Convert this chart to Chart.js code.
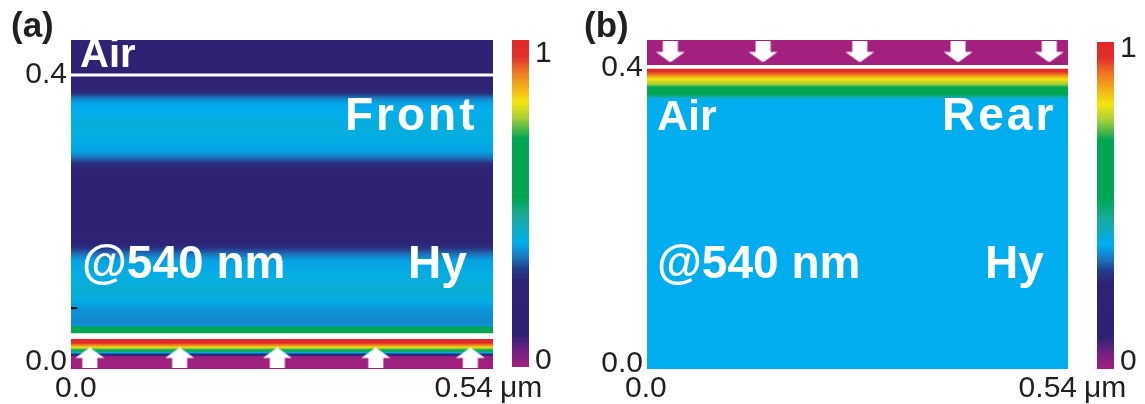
<!DOCTYPE html>
<html>
<head>
<meta charset="utf-8">
<script src="https://cdn.jsdelivr.net/npm/chart.js@4.4.1/dist/chart.umd.min.js"></script>
<style>
  html, body { margin: 0; padding: 0; background: #ffffff; }
  #wrap { position: relative; width: 1145px; height: 404px; overflow: hidden; }
  #wrap canvas { position: absolute; top: 0; }
</style>
</head>
<body>
<div id="wrap">
  <canvas id="heatA" width="575" height="404" style="left:0px"></canvas>
  <canvas id="heatB" width="565" height="404" style="left:580px"></canvas>
  <canvas id="barA" width="60" height="404" style="left:505px"></canvas>
  <canvas id="barB" width="55" height="404" style="left:1090px"></canvas>
</div>
<script>
const FONT = '"Liberation Sans", Arial, Helvetica, sans-serif';
const INK = '#231f20';

// ---- axes ----
const xTicks = [0, 0.54];          // lateral extent, µm
const yTicks = [0.0, 0.4];         // depth labels, µm
const cbarTicks = [0, 1];          // normalised |Hy|

// ---- (a) front illumination: depth (µm) / normalised |Hy|, listed top to bottom ----
const depthAirA = [0.4488, 0.400];
const fieldAirA = [0.18, 0.18];
const depthHyA = [0.400, 0.397, 0.385, 0.379, 0.374, 0.368, 0.362, 0.351, 0.330, 0.309,
                  0.293, 0.284, 0.277, 0.270, 0.260, 0.177, 0.167, 0.159, 0.151, 0.142,
                  0.121, 0.100, 0.086, 0.072, 0.056, 0.050, 0.049, 0.040];
const fieldHyA = [0.18, 0.17, 0.18, 0.22, 0.28, 0.34, 0.37, 0.38, 0.40, 0.39,
                  0.37, 0.33, 0.28, 0.22, 0.18, 0.18, 0.22, 0.28, 0.33, 0.37,
                  0.39, 0.41, 0.39, 0.36, 0.35, 0.36, 0.60, 0.60];
const depthSubA = [0.032, 0.0265, 0.023, 0.020, 0.0174, 0.0153, 0.0132, 0.0111, 0.0091, 0.0077, -0.0098];
const fieldSubA = [1.00, 0.97, 0.88, 0.80, 0.72, 0.60, 0.40, 0.30, 0.20, 0.01, 0.00];
const interfaceA = 0.4;
const arrowXA = [0.024, 0.139, 0.264, 0.390, 0.511];
const arrowDepthA = 0.0056;

// ---- (b) rear illumination ----
const depthTopB = [0.4378, 0.4045, 0.404];
const fieldTopB = [0.00, 0.00, 0.12];
const depthHyB = [0.399, 0.395, 0.391, 0.385, 0.378, 0.374, 0.365, 0.362, 0.359, 0.355, -0.0068];
const fieldHyB = [1.00, 0.96, 0.90, 0.81, 0.76, 0.70, 0.56, 0.48, 0.40, 0.38, 0.38];
const arrowXB = [0.030, 0.149, 0.273, 0.399, 0.516];
const arrowDepthB = 0.4216;

// ---- colour scale ----
const cmapPos = [0, 0.05, 0.10, 0.26, 0.30, 0.33, 0.38, 0.46, 0.52, 0.70, 0.76, 0.81, 0.90, 0.95, 1.0];
const cmapHex = ['#a3207f', '#6e2280', '#2e2176', '#2e2373', '#223c8e', '#1f6db5', '#00aeef',
                 '#1aaa9b', '#00a651', '#00a651', '#a6ce39', '#f5e50f', '#ee7a22', '#e2302a', '#e0262a'];

function hexRgb(h) {
  const n = parseInt(h.slice(1), 16);
  return [(n >> 16) & 255, (n >> 8) & 255, n & 255];
}
function colorAt(v) {
  v = Math.max(0, Math.min(1, v));
  for (let i = 1; i < cmapPos.length; i++) {
    if (v <= cmapPos[i]) {
      const t = (v - cmapPos[i - 1]) / (cmapPos[i] - cmapPos[i - 1]);
      const a = hexRgb(cmapHex[i - 1]), b = hexRgb(cmapHex[i]);
      const c = a.map((av, k) => Math.round(av + (b[k] - av) * t));
      return `rgb(${c[0]},${c[1]},${c[2]})`;
    }
  }
  return cmapHex[cmapHex.length - 1];
}

// vertical gradient following a depth profile, positioned through the y scale
function profileGradient(chart, depths, values) {
  const { ctx, chartArea, scales } = chart;
  if (!chartArea) return 'rgba(0,0,0,0)';
  const y = scales.y;
  const p0 = y.getPixelForValue(depths[0]);
  const p1 = y.getPixelForValue(depths[depths.length - 1]);
  const g = ctx.createLinearGradient(0, p0, 0, p1);
  depths.forEach((d, i) => {
    const off = (y.getPixelForValue(d) - p0) / (p1 - p0);
    g.addColorStop(Math.min(1, Math.max(0, off)), colorAt(values[i]));
  });
  return g;
}

// one horizontally uniform layer of the field map
function layer(depths, values) {
  return {
    type: 'line',
    data: [{ x: xTicks[0], y: depths[0] }, { x: xTicks[1], y: depths[0] }],
    fill: { value: depths[depths.length - 1] },
    borderColor: 'rgba(0,0,0,0)',
    borderWidth: 0,
    pointRadius: 0,
    backgroundColor: c => profileGradient(c.chart, depths, values)
  };
}

// white block arrow used as point glyph for the incidence direction
function arrowGlyph() {
  const c = document.createElement('canvas');
  c.width = 30; c.height = 21;
  const g = c.getContext('2d');
  g.fillStyle = '#ffffff';
  g.beginPath();
  g.moveTo(15, 0); g.lineTo(29.5, 10.5); g.lineTo(22.5, 10.5); g.lineTo(22.5, 21);
  g.lineTo(7.5, 21); g.lineTo(7.5, 10.5); g.lineTo(0.5, 10.5);
  g.closePath(); g.fill();
  return c;
}
const ARROW = arrowGlyph();

function arrows(xs, depth, rotation) {
  return {
    type: 'line',
    showLine: false,
    data: xs.map(x => ({ x, y: depth })),
    pointStyle: ARROW,
    pointRadius: 10,
    rotation,
    borderColor: 'rgba(0,0,0,0)',
    backgroundColor: 'rgba(0,0,0,0)'
  };
}

const fmtX = v => (v === 0 ? '0.0' : String(v));

const textPlugin = {
  id: 'panelText',
  afterDatasetsDraw(chart, args, o) {
    if (!o.items) return;
    const { ctx, chartArea: a } = chart;
    ctx.save();
    ctx.fillStyle = '#ffffff';
    ctx.textBaseline = 'alphabetic';
    ctx.textAlign = 'left';
    for (const t of o.items) {
      ctx.font = `bold ${t.size}px ${FONT}`;
      ctx.letterSpacing = (t.spacing || 0) + 'px';
      ctx.fillText(t.text, a.left + t.dx, a.top + t.dy);
    }
    ctx.restore();
  },
  afterDraw(chart, args, o) {
    if (!o.xLabels) return;
    const { ctx } = chart;
    const xs = chart.scales.x;
    ctx.save();
    ctx.fillStyle = INK;
    ctx.textBaseline = 'alphabetic';
    ctx.font = `30px ${FONT}`;
    for (const l of o.xLabels) {
      ctx.textAlign = l.align;
      ctx.fillText(l.text, xs.getPixelForValue(l.value) + l.dx, o.xBaseline);
    }
    ctx.font = `bold 35px ${FONT}`;
    ctx.textAlign = 'left';
    ctx.fillText(o.panel, o.panelX, o.panelY);
    ctx.restore();
  }
};

function heatChart(id, cfg) {
  return new Chart(document.getElementById(id), {
    type: 'line',
    data: { datasets: cfg.datasets },
    options: {
      responsive: false,
      animation: false,
      devicePixelRatio: 1,
      events: [],
      layout: { padding: cfg.padding },
      plugins: { legend: { display: false }, tooltip: { enabled: false }, panelText: cfg.text },
      scales: {
        x: { type: 'linear', display: false, min: xTicks[0], max: xTicks[1] },
        y: {
          type: 'linear', min: cfg.yMin, max: cfg.yMax,
          grid: { display: false, drawTicks: false },
          border: { display: false },
          ticks: { font: { family: FONT, size: 30 }, color: INK, padding: 4, callback: v => v.toFixed(1) },
          afterBuildTicks: s => { s.ticks = yTicks.map(v => ({ value: v })); },
          afterFit: s => { s.width = cfg.axisWidth; }
        }
      }
    },
    plugins: [textPlugin]
  });
}

// colour bar drawn as one floating bar spanning the colour scale
const cbarPlugin = {
  id: 'cbarText',
  afterDraw(chart, args, o) {
    const { ctx } = chart;
    const y = chart.scales.y;
    const x = chart.chartArea.right + o.gap;
    ctx.save();
    ctx.fillStyle = INK;
    ctx.font = `30px ${FONT}`;
    ctx.textBaseline = 'alphabetic';
    ctx.textAlign = 'left';
    ctx.fillText(String(cbarTicks[1]), x, y.getPixelForValue(cbarTicks[1]) + o.topDy);
    ctx.fillText(String(cbarTicks[0]), x, y.getPixelForValue(cbarTicks[0]) + o.bottomDy);
    ctx.restore();
  }
};

function colorbar(id, padding, text) {
  return new Chart(document.getElementById(id), {
    type: 'bar',
    data: {
      labels: [''],
      datasets: [{
        data: [[cbarTicks[0], cbarTicks[1]]],
        barPercentage: 1, categoryPercentage: 1, borderWidth: 0, inflateAmount: 0,
        backgroundColor: c => {
          const { ctx, chartArea, scales } = c.chart;
          if (!chartArea) return 'rgba(0,0,0,0)';
          const y = scales.y;
          const g = ctx.createLinearGradient(0, y.getPixelForValue(0), 0, y.getPixelForValue(1));
          cmapPos.forEach((p, i) => g.addColorStop(p, cmapHex[i]));
          return g;
        }
      }]
    },
    options: {
      responsive: false, animation: false, devicePixelRatio: 1, events: [],
      layout: { padding },
      plugins: { legend: { display: false }, tooltip: { enabled: false }, cbarText: text },
      scales: { x: { display: false }, y: { display: false, min: cbarTicks[0], max: cbarTicks[1] } }
    },
    plugins: [cbarPlugin]
  });
}

// ---- panel (a) ----
heatChart('heatA', {
  padding: { top: 40, bottom: 35, left: 0, right: 82 },
  axisWidth: 71,
  yMin: -0.0098, yMax: 0.4488,
  datasets: [
    arrows(arrowXA, arrowDepthA, 0),
    { type: 'line', data: [{ x: xTicks[0], y: interfaceA }, { x: xTicks[1], y: interfaceA }],
      borderColor: '#ffffff', borderWidth: 3, pointRadius: 0, fill: false },
    { type: 'line', data: [{ x: 0, y: 0.075 }, { x: 0.008, y: 0.075 }],
      borderColor: '#111111', borderWidth: 2, pointRadius: 0, fill: false },
    layer(depthAirA, fieldAirA),
    layer(depthHyA, fieldHyA),
    layer(depthSubA, fieldSubA)
  ],
  text: {
    items: [
      { text: 'Air', size: 40, dx: 9, dy: 27 },
      { text: 'Front', size: 46, dx: 274, dy: 90, spacing: 3 },
      { text: '@540 nm', size: 46, dx: 11, dy: 238 },
      { text: 'Hy', size: 46, dx: 337, dy: 238 }
    ],
    xLabels: [
      { text: fmtX(xTicks[0]), value: xTicks[0], dx: -16, align: 'left' },
      { text: fmtX(xTicks[1]), value: xTicks[1], dx: 0, align: 'right' },
      { text: 'μm', value: xTicks[1], dx: 7, align: 'left' }
    ],
    xBaseline: 397,
    panel: '(a)', panelX: 11, panelY: 37
  }
});
colorbar('barA', { top: 40, bottom: 37, left: 7, right: 36 }, { gap: 6, topDy: 22, bottomDy: 2 });

// ---- panel (b) ----
heatChart('heatB', {
  padding: { top: 40, bottom: 35, left: 0, right: 77 },
  axisWidth: 67,
  yMin: -0.0068, yMax: 0.4378,
  datasets: [
    arrows(arrowXB, arrowDepthB, 180),
    layer(depthTopB, fieldTopB),
    layer(depthHyB, fieldHyB)
  ],
  text: {
    items: [
      { text: 'Air', size: 43, dx: 10, dy: 90 },
      { text: 'Rear', size: 46, dx: 295, dy: 90, spacing: 3 },
      { text: '@540 nm', size: 46, dx: 10, dy: 238 },
      { text: 'Hy', size: 46, dx: 338, dy: 238 }
    ],
    xLabels: [
      { text: fmtX(xTicks[0]), value: xTicks[0], dx: -22, align: 'left' },
      { text: fmtX(xTicks[1]), value: xTicks[1], dx: 9, align: 'right' },
      { text: 'μm', value: xTicks[1], dx: 16, align: 'left' }
    ],
    xBaseline: 397,
    panel: '(b)', panelX: 4, panelY: 37
  }
});
colorbar('barB', { top: 42, bottom: 35, left: 7, right: 31 }, { gap: 6, topDy: 15, bottomDy: 1 });
</script>
</body>
</html>
